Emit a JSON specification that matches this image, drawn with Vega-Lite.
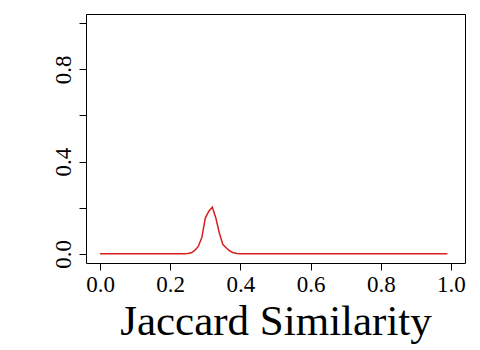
{
  "$schema": "https://vega.github.io/schema/vega-lite/v6.json",
  "width": 379,
  "height": 249,
  "autosize": "none",
  "padding": {"left": 86, "top": 14, "right": 15, "bottom": 87},
  "background": "white",
  "config": {
    "view": {"stroke": "black", "strokeWidth": 1},
    "font": "Liberation Serif"
  },
  "data": {
    "values": [
      {"x": 0.00, "y": 0}, {"x": 0.01, "y": 0}, {"x": 0.02, "y": 0}, {"x": 0.03, "y": 0}, {"x": 0.04, "y": 0},
      {"x": 0.05, "y": 0}, {"x": 0.06, "y": 0}, {"x": 0.07, "y": 0}, {"x": 0.08, "y": 0}, {"x": 0.09, "y": 0},
      {"x": 0.10, "y": 0}, {"x": 0.11, "y": 0}, {"x": 0.12, "y": 0}, {"x": 0.13, "y": 0}, {"x": 0.14, "y": 0},
      {"x": 0.15, "y": 0}, {"x": 0.16, "y": 0}, {"x": 0.17, "y": 0}, {"x": 0.18, "y": 0}, {"x": 0.19, "y": 0},
      {"x": 0.20, "y": 0}, {"x": 0.21, "y": 0}, {"x": 0.22, "y": 0}, {"x": 0.23, "y": 0.0005}, {"x": 0.24, "y": 0.0005},
      {"x": 0.25, "y": 0.001}, {"x": 0.26, "y": 0.004}, {"x": 0.27, "y": 0.015}, {"x": 0.28, "y": 0.032}, {"x": 0.29, "y": 0.07},
      {"x": 0.30, "y": 0.155}, {"x": 0.31, "y": 0.185}, {"x": 0.32, "y": 0.202}, {"x": 0.33, "y": 0.155}, {"x": 0.34, "y": 0.09},
      {"x": 0.35, "y": 0.04}, {"x": 0.36, "y": 0.025}, {"x": 0.37, "y": 0.012}, {"x": 0.38, "y": 0.004}, {"x": 0.39, "y": 0.001},
      {"x": 0.40, "y": 0}, {"x": 0.41, "y": 0}, {"x": 0.42, "y": 0}, {"x": 0.43, "y": 0}, {"x": 0.44, "y": 0},
      {"x": 0.45, "y": 0}, {"x": 0.46, "y": 0}, {"x": 0.47, "y": 0}, {"x": 0.48, "y": 0}, {"x": 0.49, "y": 0},
      {"x": 0.50, "y": 0}, {"x": 0.51, "y": 0}, {"x": 0.52, "y": 0}, {"x": 0.53, "y": 0}, {"x": 0.54, "y": 0},
      {"x": 0.55, "y": 0}, {"x": 0.56, "y": 0}, {"x": 0.57, "y": 0}, {"x": 0.58, "y": 0}, {"x": 0.59, "y": 0},
      {"x": 0.60, "y": 0}, {"x": 0.61, "y": 0}, {"x": 0.62, "y": 0}, {"x": 0.63, "y": 0}, {"x": 0.64, "y": 0},
      {"x": 0.65, "y": 0}, {"x": 0.66, "y": 0}, {"x": 0.67, "y": 0}, {"x": 0.68, "y": 0}, {"x": 0.69, "y": 0},
      {"x": 0.70, "y": 0}, {"x": 0.71, "y": 0}, {"x": 0.72, "y": 0}, {"x": 0.73, "y": 0}, {"x": 0.74, "y": 0},
      {"x": 0.75, "y": 0}, {"x": 0.76, "y": 0}, {"x": 0.77, "y": 0}, {"x": 0.78, "y": 0}, {"x": 0.79, "y": 0},
      {"x": 0.80, "y": 0}, {"x": 0.81, "y": 0}, {"x": 0.82, "y": 0}, {"x": 0.83, "y": 0}, {"x": 0.84, "y": 0},
      {"x": 0.85, "y": 0}, {"x": 0.86, "y": 0}, {"x": 0.87, "y": 0}, {"x": 0.88, "y": 0}, {"x": 0.89, "y": 0},
      {"x": 0.90, "y": 0}, {"x": 0.91, "y": 0}, {"x": 0.92, "y": 0}, {"x": 0.93, "y": 0}, {"x": 0.94, "y": 0},
      {"x": 0.95, "y": 0}, {"x": 0.96, "y": 0}, {"x": 0.97, "y": 0}, {"x": 0.98, "y": 0}, {"x": 0.99, "y": 0}
    ]
  },
  "mark": {"type": "line", "color": "#d91e1e", "strokeWidth": 1.5, "clip": true},
  "encoding": {
    "x": {
      "field": "x",
      "type": "quantitative",
      "scale": {"domain": [-0.04, 1.04], "nice": false, "zero": false},
      "axis": {
        "title": "Jaccard Similarity",
        "titleFont": "Liberation Serif",
        "titleFontSize": 43,
        "titleFontWeight": "normal",
        "titleColor": "black",
        "titlePadding": 4,
        "values": [0, 0.2, 0.4, 0.6, 0.8, 1.0],
        "format": ".1f",
        "labelFont": "Liberation Serif",
        "labelFontSize": 23,
        "labelColor": "black",
        "labelPadding": 3,
        "labelFlush": false,
        "tickColor": "black",
        "tickSize": 7,
        "domain": false,
        "grid": false
      }
    },
    "y": {
      "field": "y",
      "type": "quantitative",
      "scale": {"domain": [-0.04, 1.04], "nice": false, "zero": false},
      "axis": {
        "title": null,
        "values": [0, 0.2, 0.4, 0.6, 0.8, 1.0],
        "labelExpr": "(datum.value == 0 || abs(datum.value - 0.4) < 0.001 || abs(datum.value - 0.8) < 0.001) ? format(datum.value, '.1f') : ''",
        "labelFont": "Liberation Serif",
        "labelFontSize": 23,
        "labelColor": "black",
        "labelAngle": -90,
        "labelAlign": "center",
        "labelBaseline": "alphabetic",
        "labelPadding": 9,
        "labelFlush": false,
        "tickColor": "black",
        "tickSize": 7,
        "domain": false,
        "grid": false
      }
    }
  }
}
